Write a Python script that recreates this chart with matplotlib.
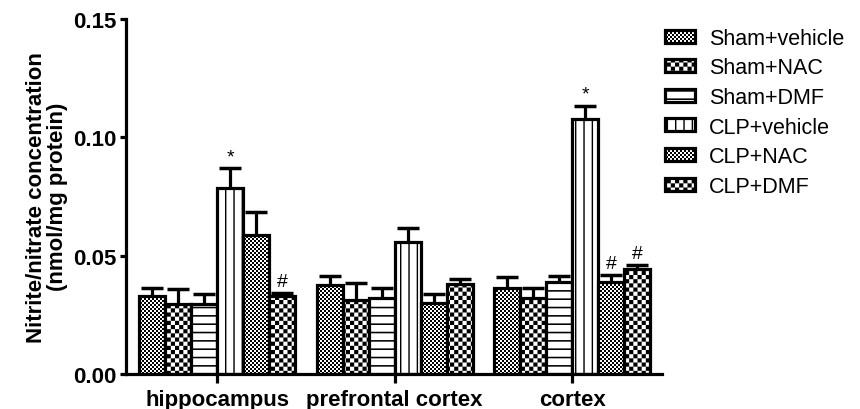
import numpy as np
import matplotlib
matplotlib.use("Agg")
import matplotlib.pyplot as plt
import matplotlib.hatch as mhatch
from matplotlib.path import Path

# data
regions = ["hippocampus", "prefrontal cortex", "cortex"]
groups = ["Sham+vehicle", "Sham+NAC", "Sham+DMF", "CLP+vehicle", "CLP+NAC", "CLP+DMF"]

sham_vehicle = [0.0331, 0.0376, 0.0362]
sham_nac = [0.0295, 0.0314, 0.0322]
sham_dmf = [0.0295, 0.0322, 0.0387]
clp_vehicle = [0.0787, 0.0558, 0.1077]
clp_nac = [0.0587, 0.0302, 0.0387]
clp_dmf = [0.0331, 0.0382, 0.0444]

sham_vehicle_err = [0.0031, 0.0038, 0.0048]
sham_nac_err = [0.0064, 0.0071, 0.0040]
sham_dmf_err = [0.0042, 0.0041, 0.0028]
clp_vehicle_err = [0.0082, 0.0059, 0.0057]
clp_nac_err = [0.0096, 0.0036, 0.0031]
clp_dmf_err = [0.0011, 0.0018, 0.0016]

# (region, group, mark)
marks = [(0, 3, "*"), (0, 5, "#"), (2, 3, "*"), (2, 4, "#"), (2, 5, "#")]

means = [sham_vehicle, sham_nac, sham_dmf, clp_vehicle, clp_nac, clp_dmf]
errs = [sham_vehicle_err, sham_nac_err, sham_dmf_err,
        clp_vehicle_err, clp_nac_err, clp_dmf_err]


# custom fill patterns built from small filled rectangles (one hatch tile = 1 inch)
class RectHatch(mhatch.HatchPatternBase):
    char = None

    def __init__(self, hatch, density):
        self.cells = self.make_cells() if self.char in hatch else []
        self.num_vertices = 5 * len(self.cells)

    def set_vertices_and_codes(self, vertices, codes):
        sq = np.array([[0, 0], [1, 0], [1, 1], [0, 1], [0, 0]], float)
        parts = [sq * [w, h] + [x, y] for x, y, w, h in self.cells]
        vertices[:] = np.concatenate(parts)
        codes[:] = np.tile([Path.MOVETO, Path.LINETO, Path.LINETO,
                            Path.LINETO, Path.CLOSEPOLY], len(self.cells))


class FineChecker(RectHatch):
    char = "o"

    def make_cells(self):
        n = 50
        return [(i / n, j / n, 1 / n, 1 / n)
                for i in range(n) for j in range(n) if (i + j) % 2 == 0]


class CoarseChecker(RectHatch):
    char = "O"

    def make_cells(self):
        n = 24
        return [(i / n, j / n, 1 / n, 1 / n)
                for i in range(n) for j in range(n) if (i + j) % 2 == 0]


class HStripes(RectHatch):
    char = "-"

    def make_cells(self):
        m = 12
        return [(0, k / m, 1, 0.016) for k in range(m)]


class VStripes(RectHatch):
    char = "|"

    def make_cells(self):
        m = 12
        return [(k / m, 0, 0.014, 1) for k in range(m)]


mhatch._hatch_types = [FineChecker, CoarseChecker, HStripes, VStripes]
plt.rcParams["hatch.linewidth"] = 0.0
plt.rcParams["font.family"] = ["Liberation Sans", "DejaVu Sans"]

hatches = ["o", "O", "-", "|", "o", "O"]

fig = plt.figure(figsize=(8.6, 4.1), dpi=100)
ax = fig.add_axes([0.1465, 0.0854, 0.6233, 0.8658])

x = np.arange(len(regions))
width = 0.1465
for i, g in enumerate(groups):
    pos = x + (i - 2.5) * width
    ax.bar(pos, means[i], width, color="white", edgecolor="black",
           linewidth=2.3, hatch=hatches[i], label=g, zorder=2)
    eb = ax.errorbar(pos, means[i], yerr=[np.zeros(len(x)), errs[i]], fmt="none",
                     ecolor="black", elinewidth=2.3, capsize=8, capthick=2.5,
                     zorder=1)
    eb[1][0].set_visible(False)

for r, g, m in marks:
    xp = x[r] + (g - 2.5) * width
    yp = means[g][r] + errs[g][r]
    ax.annotate(m, (xp, yp), xytext=(0, 2), textcoords="offset points",
                ha="center", va="bottom", fontsize=14)

ax.set_xlim(-0.513, 2.507)
ax.set_ylim(0, 0.15)
ax.set_yticks([0, 0.05, 0.10, 0.15])
ax.set_yticklabels(["0.00", "0.05", "0.10", "0.15"], fontweight="bold", fontsize=16)
ax.set_xticks(x)
ax.set_xticklabels(regions, fontweight="bold", fontsize=16)
ax.tick_params(axis="y", length=4.5, width=2.3, pad=2)
ax.tick_params(axis="x", length=6.5, width=2.3, pad=4)
for s in ["top", "right"]:
    ax.spines[s].set_visible(False)
for s in ["left", "bottom"]:
    ax.spines[s].set_linewidth(2.3)

fig.text(47 / 860, 0.519, "Nitrite/nitrate concentration\n(nmol/mg protein)",
         rotation=90, ha="center", va="center", multialignment="center",
         fontweight="bold", fontsize=16, linespacing=0.95)

fig.legend(loc="upper left", bbox_to_anchor=(0.773, 0.93), frameon=False,
           fontsize=15.5, handlelength=1.4, handleheight=0.55, handletextpad=0.65,
           labelspacing=0.4, borderpad=0, borderaxespad=0)

fig.savefig("out.png", dpi=100)
